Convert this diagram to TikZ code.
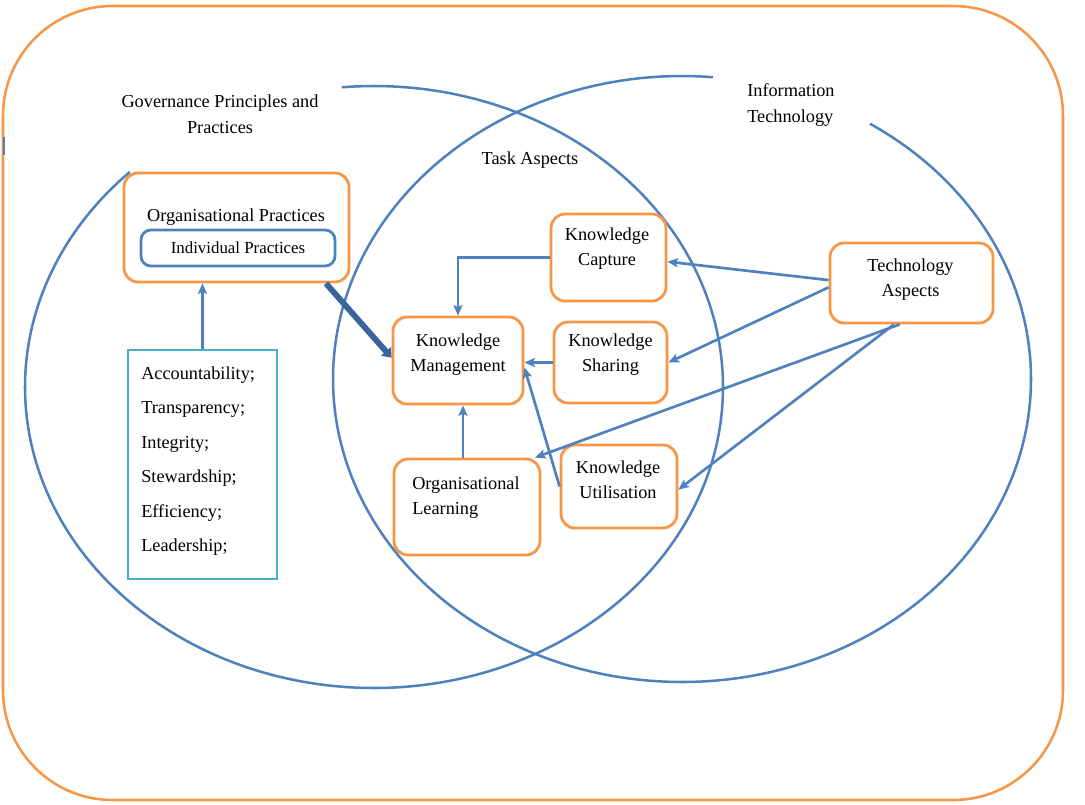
\documentclass[tikz,border=0pt]{standalone}
\usepackage{fontspec}
\setmainfont{Liberation Serif}
\usetikzlibrary{arrows.meta,fit}
\definecolor{orng}{HTML}{F79646}
\definecolor{blu}{HTML}{4F81BD}
\definecolor{tealb}{HTML}{4BACC6}
\definecolor{dblu}{HTML}{3A659C}
\begin{document}
\begin{tikzpicture}[x=0.025cm,y=-0.025cm,
  obox/.style={draw=orng, line width=2pt, rounded corners=10pt, inner sep=0pt},
  bbox/.style={draw=blu, line width=2pt, rounded corners=7pt, inner sep=0pt},
  tbox/.style={draw=tealb, line width=1.8pt, inner sep=0pt},
  ell/.style={draw=blu, line width=1.8pt},
  txt/.style={font=\fontsize{13}{17.8}\selectfont, inner sep=0pt, align=center, text=black},
  lbl/.style={font=\fontsize{13}{18.5}\selectfont, inner sep=0pt, text=black},
  arr/.style={draw=blu, line width=1.9pt, -{Stealth[length=7.5pt,width=6.5pt,inset=1.5pt]}},
  bigarr/.style={draw=dblu, line width=4.2pt, -{Triangle[length=6pt,width=9pt]}}
]
\useasboundingbox (0,0) rectangle (1085,804);
% outer frame
\draw[orng, line width=1.8pt, rounded corners=78pt] (3,6) rectangle (1063,800);
\draw[blu, line width=1pt] (4,137) -- (4,155);
% ellipses
\draw[ell] plot[domain=-95.3:225.6, samples=240, smooth] ({374+349*cos(\x)},{387+301*sin(\x)});
\draw[ell] plot[domain=-57.4:275.1, samples=240, smooth] ({682+349*cos(\x)},{379+303*sin(\x)});
% labels
\node[lbl, align=center] (gov) at (220,114) {Governance Principles and\\Practices};
\node[lbl] (task) at (530,160) {Task Aspects};
\node[lbl, align=left, anchor=west] (itl) at (747,105) {Information\\Technology};
% boxes
\node[obox, fit={(124,173) (349,282)}] (org) {};
\node[txt] (orgt) at (236,217) {Organisational Practices};
\node[bbox, fit={(141,230) (335,266)}] (ind) {};
\node[txt, font=\fontsize{12}{14}\selectfont] (indt) at (238,248) {Individual Practices};
\node[tbox, fit={(128,350) (277,579)}] (prin) {};
\node[lbl, font=\fontsize{13}{24.5}\selectfont, align=left, anchor=west] (print) at (141,461)
  {Accountability;\\Transparency;\\Integrity;\\Stewardship;\\Efficiency;\\Leadership;};
\node[obox, fit={(393,317) (523,404)}] (km) {};
\node[txt] (kmt) at (458,354.5) {Knowledge\\Management};
\node[obox, fit={(551,214) (666,301)}] (kc) {};
\node[txt] (kct) at (607,249) {Knowledge\\Capture};
\node[obox, fit={(554,322) (667,403)}] (ks) {};
\node[txt] (kst) at (610.5,355) {Knowledge\\Sharing};
\node[obox, fit={(394,459) (540,555)}] (ol) {};
\node[txt, align=left, anchor=west] (olt) at (412,498) {Organisational\\Learning};
\node[obox, fit={(561,445) (677,528)}] (ku) {};
\node[txt] (kut) at (618,479.5) {Knowledge\\Utilisation};
\node[obox, fit={(830,243) (993,323)}] (ta) {};
\node[txt] (tat) at (910.5,280) {Technology\\Aspects};
% connectors
\draw[arr] (prin.north) -- (org.south -| prin.north);
\draw[bigarr] (org.-32.5) -- ([yshift=2pt]km.west);
\draw[arr] (kc.west) -| (km.north);
\draw[arr] (ks.west) -- (ks.west -| km.east);
\draw[arr] (ku.west) -- (km.-6.6);
\draw[arr] (ol.north -| 463,0) -- (km.south -| 463,0);
\draw[arr] (ta.178) -- (kc.-4.5);
\draw[arr] (ta.183) -- (ks.east);
\draw[arr] (ta.-106) -- (ol.36.4);
\draw[arr] (ta.-113.6) -- (ku.-3.5);
\end{tikzpicture}
\end{document}
